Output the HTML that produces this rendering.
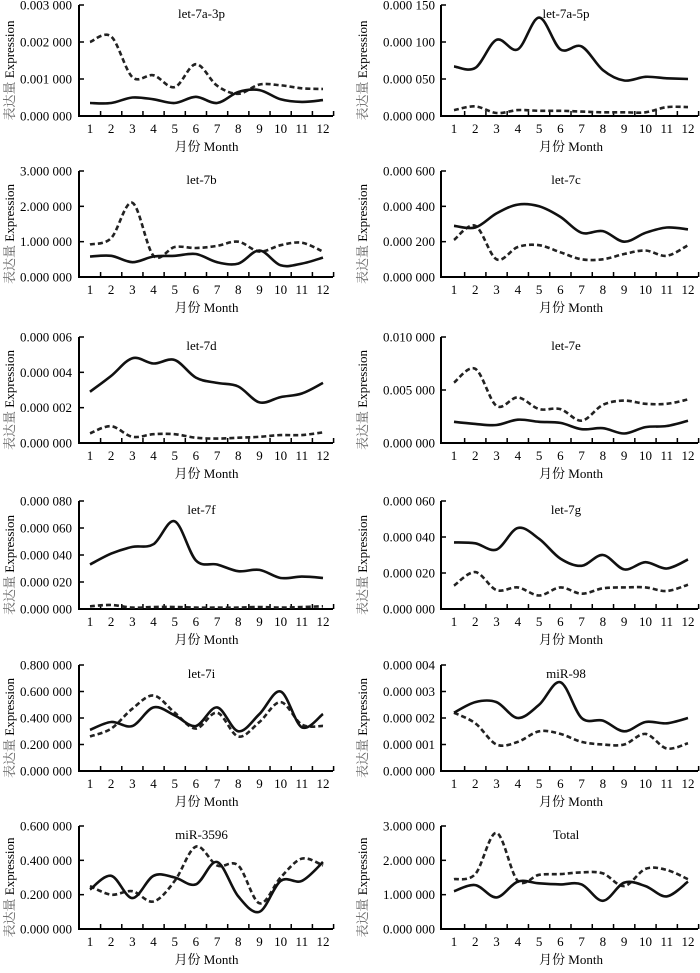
<!DOCTYPE html>
<html><head><meta charset="utf-8"><style>
html,body{margin:0;padding:0;background:#fff;}
svg{display:block;font-family:"Liberation Serif","Noto Serif CJK SC",serif;}
</style></head><body>
<svg id="fig" width="700" height="973" viewBox="0 0 700 973" xmlns="http://www.w3.org/2000/svg"></svg>
<script>
const months = [1,2,3,4,5,6,7,8,9,10,11,12];
const titles = ["let-7a-3p","let-7a-5p","let-7b","let-7c","let-7d","let-7e","let-7f","let-7g","let-7i","miR-98","miR-3596","Total"];
const yMaxes = [0.003,0.00015,3,0.0006,0.000006,0.01,0.00008,0.00006,0.8,0.000004,0.6,3];
const yTickCounts = [3,3,3,3,3,2,4,3,4,4,3,3];
const let7a3pSolid = [0.00035,0.00035,0.0005,0.00045,0.00035,0.00052,0.00035,0.00065,0.0007,0.00045,0.00038,0.00043];
const let7a3pDashed = [0.002,0.00215,0.00105,0.0011,0.00078,0.0014,0.00082,0.0006,0.00085,0.00083,0.00075,0.00073];
const let7a5pSolid = [0.000067,0.000065,0.000103,0.00009,0.000133,0.00009,0.000094,0.000062,0.000048,0.000053,0.000051,0.00005];
const let7a5pDashed = [0.000008,0.000013,0.000004,0.000008,0.000007,0.000007,0.000006,0.000005,0.000005,0.000005,0.000012,0.000012];
const let7bSolid = [0.58,0.6,0.42,0.58,0.6,0.65,0.42,0.38,0.75,0.33,0.38,0.55];
const let7bDashed = [0.92,1.1,2.1,0.6,0.85,0.82,0.88,1.0,0.72,0.9,0.97,0.72];
const let7cSolid = [0.00029,0.00028,0.00036,0.00041,0.0004,0.00034,0.00025,0.00026,0.0002,0.00025,0.00028,0.00027];
const let7cDashed = [0.00021,0.00029,0.0001,0.00017,0.00018,0.00014,0.0001,0.0001,0.00013,0.00015,0.00012,0.00018];
const let7dSolid = [0.0000029,0.0000038,0.0000048,0.0000045,0.0000047,0.0000037,0.0000034,0.0000032,0.0000023,0.0000026,0.0000028,0.0000034];
const let7dDashed = [0.00000055,0.00000095,0.00000035,0.0000005,0.0000005,0.0000003,0.00000025,0.0000003,0.00000035,0.00000045,0.00000045,0.0000006];
const let7eSolid = [0.002,0.0018,0.0017,0.0022,0.002,0.0019,0.0013,0.0014,0.0009,0.0015,0.0016,0.0021];
const let7eDashed = [0.0057,0.007,0.0035,0.0043,0.0032,0.0032,0.0021,0.0036,0.004,0.0037,0.0037,0.0041];
const let7fSolid = [0.000033,0.000041,0.000046,0.000048,0.000065,0.000036,0.000033,0.000028,0.000029,0.000023,0.000024,0.000023];
const let7fDashed = [0.000002,0.000003,0.000001,0.0000015,0.0000015,0.000001,0.000001,0.000001,0.0000015,0.000001,0.0000015,0.000002];
const let7gSolid = [0.000037,0.0000365,0.000033,0.000045,0.000039,0.000028,0.000024,0.00003,0.000022,0.000026,0.0000225,0.0000275];
const let7gDashed = [0.000013,0.0000205,0.0000105,0.000012,0.0000075,0.000012,0.0000085,0.0000115,0.000012,0.000012,0.00001,0.0000135];
const let7iSolid = [0.31,0.37,0.34,0.48,0.42,0.34,0.48,0.3,0.43,0.6,0.33,0.43];
const let7iDashed = [0.26,0.32,0.47,0.57,0.44,0.32,0.44,0.26,0.37,0.52,0.35,0.34];
const miR98Solid = [0.0000022,0.0000026,0.0000026,0.000002,0.0000025,0.00000335,0.000002,0.0000019,0.0000015,0.00000185,0.0000018,0.000002];
const miR98Dashed = [0.0000022,0.0000018,0.000001,0.0000011,0.0000015,0.0000014,0.0000011,0.000001,0.000001,0.0000014,0.00000085,0.00000105];
const miR3596Solid = [0.23,0.31,0.18,0.31,0.3,0.26,0.39,0.19,0.1,0.28,0.28,0.39];
const miR3596Dashed = [0.25,0.2,0.22,0.16,0.28,0.48,0.37,0.37,0.15,0.3,0.41,0.37];
const totalSolid = [1.1,1.28,0.92,1.38,1.33,1.3,1.3,0.82,1.35,1.25,0.95,1.38];
const totalDashed = [1.45,1.6,2.8,1.4,1.58,1.6,1.65,1.62,1.25,1.75,1.72,1.45];
const solidSeries = [let7a3pSolid,let7a5pSolid,let7bSolid,let7cSolid,let7dSolid,let7eSolid,let7fSolid,let7gSolid,let7iSolid,miR98Solid,miR3596Solid,totalSolid];
const dashedSeries = [let7a3pDashed,let7a5pDashed,let7bDashed,let7cDashed,let7dDashed,let7eDashed,let7fDashed,let7gDashed,let7iDashed,miR98Dashed,miR3596Dashed,totalDashed];

const NS="http://www.w3.org/2000/svg";
const svg=document.getElementById('fig');
function mk(tag,attrs,parent){const e=document.createElementNS(NS,tag);for(const k in attrs)e.setAttribute(k,attrs[k]);(parent||svg).appendChild(e);return e;}
function fmt(v){const s=v.toFixed(6);return s.slice(0,s.length-3)+' '+s.slice(s.length-3);}
function smooth(pts){let d='M'+pts[0][0].toFixed(1)+','+pts[0][1].toFixed(1);
 for(let i=0;i<pts.length-1;i++){const p0=pts[Math.max(0,i-1)],p1=pts[i],p2=pts[i+1],p3=pts[Math.min(pts.length-1,i+2)];
  const c1=[p1[0]+(p2[0]-p0[0])/6,p1[1]+(p2[1]-p0[1])/6],c2=[p2[0]-(p3[0]-p1[0])/6,p2[1]-(p3[1]-p1[1])/6];
  d+=' C'+c1[0].toFixed(1)+','+c1[1].toFixed(1)+' '+c2[0].toFixed(1)+','+c2[1].toFixed(1)+' '+p2[0].toFixed(1)+','+p2[1].toFixed(1);}
 return d;}
const cols=[{ax:79,xe:333,m1:90,m12:323,lab:72,yt:10},{ax:441,xe:698,m1:454,m12:688,lab:435,yt:363}];
const rowBottoms=[116,277,443,609,771,929];
const rowTops=[5,171,337,501,665,826];
titles.forEach((t,i)=>{
 const c=cols[i%2],r=Math.floor(i/2),bottom=rowBottoms[r],top=rowTops[r];
 const g=mk('g',{});
 
 
 const xs=m=>c.m1+(m-1)*(c.m12-c.m1)/11;
 const ys=v=>bottom-v/yMaxes[i]*(bottom-top);
 const ax=mk('path',{d:`M${c.ax},${top} V${bottom} H${c.xe}`,fill:'none',stroke:'#000','stroke-width':2},g);
 
 
 for(let k=0;k<=yTickCounts[i];k++){const v=yMaxes[i]*k/yTickCounts[i],y=ys(v);
  mk('line',{x1:c.ax,x2:c.ax+5,y1:y,y2:y,stroke:'#000','stroke-width':1.5},g);
  const tl=mk('text',{x:c.lab,y:y+4.5,'text-anchor':'end','font-size':13},g);tl.textContent=fmt(v);
  
  }
 months.forEach(m=>{const x=xs(m);
  mk('line',{x1:x+(c.m12-c.m1)/22,x2:x+(c.m12-c.m1)/22,y1:bottom,y2:bottom-5,stroke:'#000','stroke-width':1.5},g);
  const ml=mk('text',{x:x,y:bottom+17,'text-anchor':'middle','font-size':13},g);ml.textContent=m;
  
  });
 const xt=mk('text',{x:(c.m1+c.m12)/2,y:bottom+35,'text-anchor':'middle','font-size':13},g);xt.textContent='月份 Month';
 
 
 const cy=(top+bottom)/2+6;
 const yt=mk('text',{x:c.yt,y:cy,'text-anchor':'middle','font-size':13,transform:`rotate(-90 ${c.yt+4} ${cy})`},g);
 yt.innerHTML='<tspan fill="#666">表达量</tspan> Expression';
 
 
 const tt=mk('text',{x:(c.m1+c.m12)/2-5,y:top+13,'text-anchor':'middle','font-size':13},g);tt.textContent=t;
 
 
 const ds=mk('path',{d:smooth(dashedSeries[i].map((v,j)=>[xs(months[j]),ys(v)])),fill:'none',stroke:'#222','stroke-width':2.6,'stroke-dasharray':'5 3'},g);
 
 
 const ss=mk('path',{d:smooth(solidSeries[i].map((v,j)=>[xs(months[j]),ys(v)])),fill:'none',stroke:'#111','stroke-width':2.6},g);
 
 
});
</script>
</body></html>
